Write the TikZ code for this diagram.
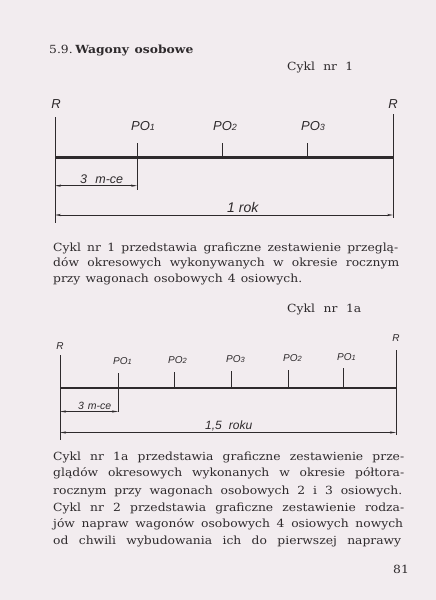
\documentclass[tikz,border=0pt]{standalone}
\usepackage{fontspec}
\setmainfont{DejaVu Serif}[FakeStretch=1.1]
\newfontfamily\handfont{Liberation Sans}
\usetikzlibrary{arrows.meta}
\definecolor{paper}{HTML}{F2ECEF}
\definecolor{ink}{HTML}{2E2A2C}
\newcommand{\sub}[1]{{\fontsize{9}{9}\selectfont #1}}
\newcommand{\subs}[1]{{\fontsize{7.5}{7.5}\selectfont #1}}
\tikzset{
  txt/.style={anchor=base west, inner sep=0pt, text=ink, font=\fontsize{11.2}{12}\selectfont},
  hand/.style={anchor=base west, inner sep=0pt, text=ink, font=\handfont\itshape\fontsize{13}{13}\selectfont},
  handsm/.style={anchor=base west, inner sep=0pt, text=ink, font=\handfont\itshape\fontsize{10}{10}\selectfont},
  axis/.style={ink, line width=2.2pt},
  vline/.style={ink, line width=0.9pt},
  tick/.style={ink, line width=0.8pt},
  dim/.style={ink, line width=0.7pt, {Stealth[length=6pt,width=2.2pt]}-{Stealth[length=6pt,width=2.2pt]}},
}
\begin{document}
\begin{tikzpicture}[x=1pt,y=-1pt]
\fill[paper] (0,0) rectangle (436,600);
\useasboundingbox (0,0) rectangle (436,600);

% header
\node[txt] (head) at (49,53.3) {\makebox[137pt][s]{5.9.\ \textbf{Wagony\ \ osobowe}}};
\node[txt] (c1) at (287,70) {\makebox[66pt][s]{Cykl nr 1}};

% ---------- diagram 1 ----------
\coordinate (A0) at (55,157.5);
\coordinate (A1) at (393,157.5);
\coordinate (p1) at (137,157.5);
\coordinate (p2) at (222,157.5);
\coordinate (p3) at (307,157.5);
\node[hand, anchor=base] (R1) at (56,108.3) {R};
\node[hand, anchor=base] (R2) at (393,108.3) {R};
\draw[vline] (55,117) -- (55,223);
\draw[vline] (393,114) -- (393,218);
\draw[axis] (A0) -- (A1);
\draw[tick] (137,143) -- (137,190);
\draw[tick] (222,143) -- (p2);
\draw[tick] (307,143) -- (p3);
\node[hand] (po1) at (131,130) {PO\sub{1}};
\node[hand] (po2) at (213,130) {PO\sub{2}};
\node[hand] (po3) at (301,130) {PO\sub{3}};
\coordinate (d1a) at (55,185.7);
\coordinate (d1b) at (137,185.7);
\draw[dim] (d1a) -- (d1b);
\node[hand, font=\handfont\itshape\fontsize{12.5}{12.5}\selectfont] (m1) at (80,183) {\makebox[43pt][s]{3 m-ce}};
\coordinate (d2a) at (55,215);
\coordinate (d2b) at (393,215);
\draw[dim] (d2a) -- (d2b);
\node[hand, font=\handfont\itshape\fontsize{14}{14}\selectfont] (rok) at (227,212) {1 rok};

% paragraph 1
\node[txt] (l1) at (53,251.7) {\makebox[345pt][s]{Cykl nr 1 przedstawia graficzne zestawienie przeglą-}};
\node[txt] (l2) at (53,266.9) {\makebox[346pt][s]{dów okresowych wykonywanych w okresie rocznym}};
\node[txt] (l3) at (53,282.2) {\makebox[249pt][s]{przy wagonach osobowych 4 osiowych.}};
\node[txt] (c1a) at (287,312.7) {\makebox[74pt][s]{Cykl nr 1a}};

% ---------- diagram 2 ----------
\coordinate (B0) at (60,387.5);
\coordinate (B1) at (396,387.5);
\node[handsm, anchor=base] (R3) at (60,349) {R};
\node[handsm, anchor=base] (R4) at (396,341) {R};
\draw[vline] (60,355) -- (60,440);
\draw[vline] (396,350) -- (396,435);
\draw[axis, line width=2pt] (B0) -- (B1);
\draw[tick] (118,373) -- (118,412);
\draw[tick] (174,372) -- (174,387.5);
\draw[tick] (231,371) -- (231,387.5);
\draw[tick] (288,370) -- (288,387.5);
\draw[tick] (343,368) -- (343,387.5);
\node[handsm] (q1) at (113,364) {PO\subs{1}};
\node[handsm] (q2) at (168,363) {PO\subs{2}};
\node[handsm] (q3) at (226,362) {PO\subs{3}};
\node[handsm] (q4) at (283,361) {PO\subs{2}};
\node[handsm] (q5) at (337,360) {PO\subs{1}};
\coordinate (e1a) at (60,411.5);
\coordinate (e1b) at (118,411.5);
\draw[dim] (e1a) -- (e1b);
\node[handsm, font=\handfont\itshape\fontsize{10.5}{10.5}\selectfont] (m2) at (78,409) {\makebox[33pt][s]{3 m-ce}};
\coordinate (e2a) at (60,432.5);
\coordinate (e2b) at (396,432.5);
\draw[dim] (e2a) -- (e2b);
\node[handsm, font=\handfont\itshape\fontsize{12}{12}\selectfont] (roku) at (205,429) {\makebox[47pt][s]{1,5 roku}};

% paragraph 2
\node[txt] (k1) at (53,460) {\makebox[351pt][s]{Cykl nr 1a przedstawia graficzne zestawienie prze-}};
\node[txt] (k2) at (53,476.7) {\makebox[351pt][s]{glądów okresowych wykonanych w okresie półtora-}};
\node[txt] (k3) at (53,494) {\makebox[349pt][s]{rocznym przy wagonach osobowych 2 i 3 osiowych.}};
\node[txt] (k4) at (53,511.5) {\makebox[351pt][s]{Cykl nr 2 przedstawia graficzne zestawienie rodza-}};
\node[txt] (k5) at (53,527.5) {\makebox[350pt][s]{jów napraw wagonów osobowych 4 osiowych nowych}};
\node[txt] (k6) at (53,544) {\makebox[348pt][s]{od chwili wybudowania ich do pierwszej naprawy}};
\node[txt] (pg) at (393,573) {81};
\end{tikzpicture}
\end{document}
